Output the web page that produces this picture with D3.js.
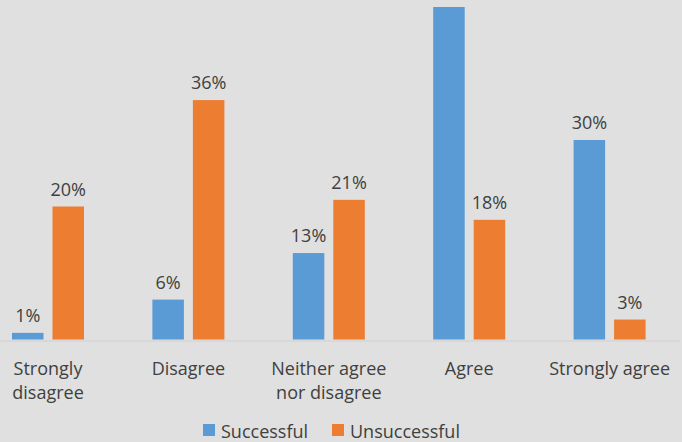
<!DOCTYPE html>
<html>
<head>
<meta charset="utf-8">
<script src="https://cdn.jsdelivr.net/npm/d3@7"></script>
<style>
  body { margin: 0; background: #dfe0df; }
  svg { display: block; font-family: "Open Sans", sans-serif; }
</style>
</head>
<body>
<div id="chart"></div>
<script>
// survey answers, percent of respondents
var categories = ["Strongly disagree", "Disagree", "Neither agree nor disagree", "Agree", "Strongly agree"];
var categoryLines = [["Strongly", "disagree"], ["Disagree"], ["Neither agree", "nor disagree"], ["Agree"], ["Strongly agree"]];
var seriesNames = ["Successful", "Unsuccessful"];
var successful = [1, 6, 13, 50, 30];
var unsuccessful = [20, 36, 21, 18, 3];
var seriesColors = ["#5b9bd5", "#ed7d31"];

var width = 682, height = 442;
var baseY = 340;

var svg = d3.select("#chart").append("svg")
    .attr("width", width)
    .attr("height", height);

svg.append("rect")
    .attr("width", width)
    .attr("height", height)
    .attr("fill", "#dfe0df");

var x0 = d3.scaleBand()
    .domain(categories)
    .range([-22.2, 679.8]);

var x1 = d3.scaleBand()
    .domain(seriesNames)
    .range([0, 72])
    .paddingInner(0.222);

var y = d3.scaleLinear()
    .domain([0, 50])
    .range([baseY - 0.5, 7]);

var data = categories.map(function(c, i) {
    return {cat: c, values: [
        {name: seriesNames[0], value: successful[i]},
        {name: seriesNames[1], value: unsuccessful[i]}
    ]};
});

// axis line + wrapped category labels
var xaxis = svg.append("g")
    .attr("transform", "translate(0," + (baseY + 0.5) + ")")
    .call(d3.axisBottom(x0).tickSize(0).tickSizeOuter(0));

xaxis.select(".domain").attr("stroke", "#d0d0d0").attr("stroke-width", 1.2);

xaxis.selectAll(".tick text").each(function(d, i) {
    var t = d3.select(this);
    t.text(null).attr("dy", null).attr("y", null)
        .attr("fill", "#404040")
        .style("font-size", "18px")
        .style("font-family", "'Open Sans', sans-serif");
    categoryLines[i].forEach(function(line, k) {
        t.append("tspan")
            .attr("x", 0)
            .attr("y", 34.5 + k * 24)
            .text(line);
    });
});

var groups = svg.selectAll(".group")
    .data(data)
    .enter().append("g")
    .attr("class", "group")
    .attr("transform", function(d) {
        return "translate(" + (x0(d.cat) + x0.bandwidth() / 2 - 36) + ",0)";
    });

groups.selectAll("rect")
    .data(function(d) { return d.values; })
    .enter().append("rect")
    .attr("x", function(d) { return x1(d.name); })
    .attr("y", function(d) { return y(d.value); })
    .attr("width", x1.bandwidth())
    .attr("height", function(d) { return y(0) - y(d.value); })
    .attr("fill", function(d, i) { return seriesColors[i]; });

// the label of the tallest bar sits above the cropped top edge, so it is not shown
groups.selectAll("text")
    .data(function(d) { return d.values.filter(function(v) { return y(v.value) - 11 > 16; }); })
    .enter().append("text")
    .attr("x", function(d) { return x1(d.name) + x1.bandwidth() / 2; })
    .attr("y", function(d) { return y(d.value) - 11; })
    .attr("text-anchor", "middle")
    .attr("fill", "#404040")
    .style("font-size", "18px")
    .text(function(d) { return d.value + "%"; });

// legend
var legendX = [203, 332];
var legend = svg.selectAll(".legend")
    .data(seriesNames)
    .enter().append("g")
    .attr("class", "legend")
    .attr("transform", function(d, i) { return "translate(" + legendX[i] + ",424)"; });

legend.append("rect")
    .attr("width", 12)
    .attr("height", 12)
    .attr("fill", function(d, i) { return seriesColors[i]; });

legend.append("text")
    .attr("x", 18)
    .attr("y", 13.5)
    .attr("fill", "#404040")
    .style("font-size", "18px")
    .text(function(d) { return d; });
</script>
</body>
</html>
